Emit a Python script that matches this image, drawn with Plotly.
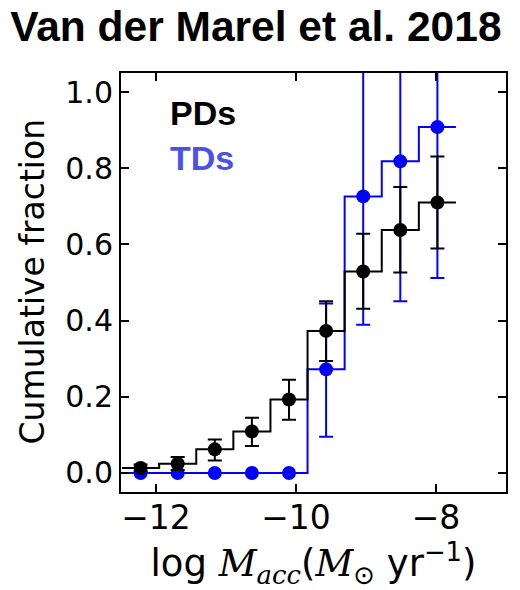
import plotly.graph_objects as go

# ---- data ----
log_macc = [-12.22, -11.69, -11.16, -10.63, -10.10, -9.57, -9.04, -8.51, -7.98]

pd_frac = [0.013, 0.024, 0.062, 0.109, 0.193, 0.373, 0.529, 0.638, 0.710]
pd_upper = [0.022, 0.042, 0.088, 0.145, 0.245, 0.451, 0.628, 0.751, 0.831]
pd_lower = [0.005, 0.008, 0.033, 0.071, 0.140, 0.294, 0.431, 0.526, 0.589]

td_frac = [0.0, 0.0, 0.0, 0.0, 0.0, 0.272, 0.726, 0.818, 0.908]
td_upper = [None, None, None, None, None, 0.445, 1.07, 1.19, 1.31]
td_lower = [None, None, None, None, None, 0.095, 0.389, 0.451, 0.512]

x_ticks = [-12, -10, -8]
y_ticks = [0.0, 0.2, 0.4, 0.6, 0.8, 1.0]

title_text = "Van der Marel et al. 2018"
ylabel = "Cumulative fraction"
label_pd = "PDs"
label_td = "TDs"

BLACK = "#000000"
BLUE = "#0000ff"
TD_TEXT = "#4b52e6"


def step_xy(x, y):
    half = (x[1] - x[0]) / 2.0
    xs = [x[0] - half] + list(x) + [x[-1] + half]
    ys = [y[0]] + list(y) + [y[-1]]
    return xs, ys


def err_arrays(y, up, lo):
    plus = [None if u is None else u - v for u, v in zip(up, y)]
    minus = [None if l is None else v - l for l, v in zip(lo, y)]
    return plus, minus


fig = go.Figure()

for frac, up, lo, col in [(td_frac, td_upper, td_lower, BLUE),
                          (pd_frac, pd_upper, pd_lower, BLACK)]:
    sx, sy = step_xy(log_macc, frac)
    fig.add_trace(go.Scatter(x=sx, y=sy, mode="lines",
                             line=dict(shape="hvh", color=col, width=2),
                             hoverinfo="skip", showlegend=False))
    plus, minus = err_arrays(frac, up, lo)
    fig.add_trace(go.Scatter(
        x=log_macc, y=frac, mode="markers",
        marker=dict(size=14, color=col, line=dict(width=0)),
        error_y=dict(type="data", symmetric=False, array=plus, arrayminus=minus,
                     color=col, thickness=2, width=7),
        showlegend=False))

SERIF = "font-family:DejaVu Serif"
xlabel = ("log <span style='" + SERIF + "'><i>M</i><sub><i>acc</i></sub></span>"
          "(<span style='" + SERIF + "'><i>M</i></span><sub>⊙</sub> yr<sup>−1</sup>)")

fig.update_layout(
    width=520, height=590,
    margin=dict(l=121, r=12, t=73, b=98),
    paper_bgcolor="white", plot_bgcolor="white",
    title=dict(text="<b>" + title_text + "</b>", x=0.492, xanchor="center",
               y=1 - 26 / 590, yanchor="middle",
               font=dict(family="Liberation Sans", size=42.5, color="black")),
    xaxis=dict(range=[-12.5, -7.0], tickvals=x_ticks, ticks="inside", ticklen=8,
               tickwidth=1.5, tickcolor="black", showline=True, linecolor="black",
               linewidth=2, mirror="allticks", showgrid=False, zeroline=False,
               tickfont=dict(family="DejaVu Sans", size=33, color="black"),
               ticklabelstandoff=-5,
               title=dict(text=xlabel,
                          font=dict(family="DejaVu Sans", size=37, color="black"),
                          standoff=0)),
    yaxis=dict(range=[-0.05, 1.05], tickvals=y_ticks, tickformat=".1f", ticks="inside",
               ticklen=8, tickwidth=1.5, tickcolor="black", showline=True,
               linecolor="black", linewidth=2, mirror="allticks", showgrid=False,
               zeroline=False,
               tickfont=dict(family="DejaVu Sans", size=30, color="black")),
    annotations=[
        dict(text=ylabel, x=(32 - 121) / 387, y=(492 - 281) / 419, xref="paper",
             yref="paper", xanchor="center", yanchor="middle", textangle=-90,
             showarrow=False,
             font=dict(family="DejaVu Sans", size=33, color="black")),
        dict(text="<b>" + label_pd + "</b>", x=-11.83, y=0.946, xref="x", yref="y",
             xanchor="left", yanchor="middle", showarrow=False,
             font=dict(family="Liberation Sans", size=34, color=BLACK)),
        dict(text="<b>" + label_td + "</b>", x=-11.83, y=0.826, xref="x", yref="y",
             xanchor="left", yanchor="middle", showarrow=False,
             font=dict(family="Liberation Sans", size=34, color=TD_TEXT)),
    ],
)

fig.write_html("out.html")
